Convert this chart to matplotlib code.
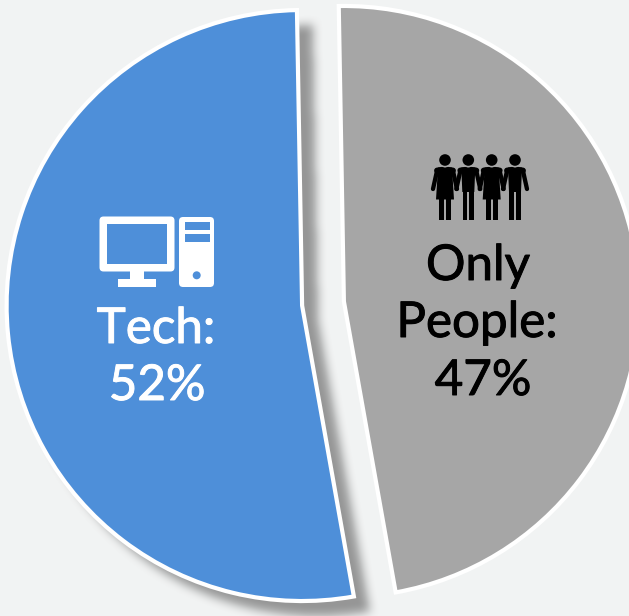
import numpy as np
import matplotlib
matplotlib.use('Agg')
import matplotlib.pyplot as plt
import matplotlib.patheffects as pe
from matplotlib.patches import Rectangle, Circle, FancyBboxPatch, Polygon

W, H = 629, 616

# share of each group
labels = ['Only\nPeople:', 'Tech:']
values = [47, 52]
colors = ['#A6A6A6', '#4E8FD9']
explode = [21, 21]
background = '#F1F3F3'

plt.rcParams['font.family'] = ['Lato', 'DejaVu Sans']

fig = plt.figure(figsize=(W / 100, H / 100), dpi=100, facecolor=background)
ax = fig.add_axes([0, 0, 1, 1])


def Y(y):
    # positions below are measured from the top left
    return H - y


wedges, _ = ax.pie(values, explode=explode, colors=colors, startangle=91, counterclock=False,
                   center=(323, Y(303.5)), radius=295.5, frame=True,
                   wedgeprops=dict(edgecolor='white', linewidth=3, zorder=3))
ax.set_xlim(0, W)
ax.set_ylim(0, H)
ax.set_aspect('equal')
ax.axis('off')

# soft drop shadow under the blue wedge
fig.canvas.draw()
blue = wedges[1]
path = blue.get_transform().transform_path(blue.get_path())
xx, yy = np.meshgrid(np.arange(W) + 0.5, np.arange(H) + 0.5)
mask = path.contains_points(np.c_[xx.ravel(), yy.ravel()]).reshape(H, W).astype(float)
kernel = np.ones(11) / 11
for i in range(2):
    mask = np.apply_along_axis(lambda r: np.convolve(r, kernel, mode='same'), 0, mask)
    mask = np.apply_along_axis(lambda r: np.convolve(r, kernel, mode='same'), 1, mask)
mask = np.roll(np.roll(mask, 16, axis=1), -15, axis=0)
# roll wraps the bottom rows round to the top, clear them
mask[-15:, :] = 0
shadow = np.zeros((H, W, 4))
shadow[..., :3] = 0.45
shadow[..., 3] = mask * 0.72
ax.imshow(shadow, origin='lower', extent=(0, W, 0, H), zorder=1, interpolation='bilinear')
ax.set_xlim(0, W)
ax.set_ylim(0, H)
ax.set_aspect('equal')


# monitor and tower icon
def computer():
    c = 'white'
    b = colors[1]
    ax.add_patch(FancyBboxPatch((102, Y(269)), 70, 50, boxstyle='round,pad=2.5,rounding_size=4',
                                fc=c, ec='none', zorder=5))
    ax.add_patch(Rectangle((106.7, Y(264)), 60, 40, fc=b, ec='none', zorder=6))
    ax.add_patch(Rectangle((130, Y(280)), 14, 10, fc=c, ec='none', zorder=5))
    ax.add_patch(Rectangle((118, Y(287)), 38, 8, fc=c, ec='none', zorder=5))
    ax.add_patch(FancyBboxPatch((182, Y(284)), 29, 64, boxstyle='round,pad=3,rounding_size=4',
                                fc=c, ec='none', zorder=5))
    ax.add_patch(Rectangle((184.5, Y(229.7)), 25, 8, fc=b, ec='none', zorder=6))
    ax.add_patch(Rectangle((184.5, Y(242)), 25, 8, fc=b, ec='none', zorder=6))
    ax.add_patch(Circle((196.7, Y(275.3)), 4, fc=b, ec='none', zorder=6))


# one pictogram figure, cx in pixels, shapes in pixels from the head centre
def person(cx, woman):
    k = 'black'
    ax.add_patch(Circle((cx, Y(160)), 5.8, fc=k, ec='none', zorder=5))
    if woman:
        body = [(-7, 167.5), (7, 167.5), (9, 199.5), (-9, 199.5)]
    else:
        body = [(-7, 167.5), (7, 167.5), (6, 192), (-6, 192)]
    ax.add_patch(Polygon([(cx + x, Y(y)) for x, y in body], fc=k, ec='none', zorder=5))
    for x0 in (-5.7, 1):
        ax.add_patch(Rectangle((cx + x0, Y(219.5)), 4.8, 32, fc=k, ec='none', zorder=5))
    for s in (-1, 1):
        ax.plot([cx + s * 8, cx + s * 12], [Y(171), Y(189)], color=k, lw=3.1,
                solid_capstyle='round', zorder=5)
        ax.plot([cx + s * 3, cx + s * 8], [Y(169.8), Y(170.5)], color=k, lw=4.2,
                solid_capstyle='round', zorder=5)


computer()
person(445, True)
person(468.3, False)
person(491.7, True)
person(515, False)

# labels, thickened a little with a hairline stroke
fs = 35.5
texts = [('Tech:', 156, 343, 'white'), ('52%', 157, 400, 'white'),
         ('Only', 478, 280, 'black'), ('People:', 477, 337, 'black'), ('47%', 483, 395, 'black')]
for s, x, y, c in texts:
    ax.text(x, Y(y), s, color=c, fontsize=fs, ha='center', va='baseline', zorder=6,
            path_effects=[pe.withStroke(linewidth=0.7, foreground=c)])

fig.savefig('out.png', dpi=100, facecolor=background)
